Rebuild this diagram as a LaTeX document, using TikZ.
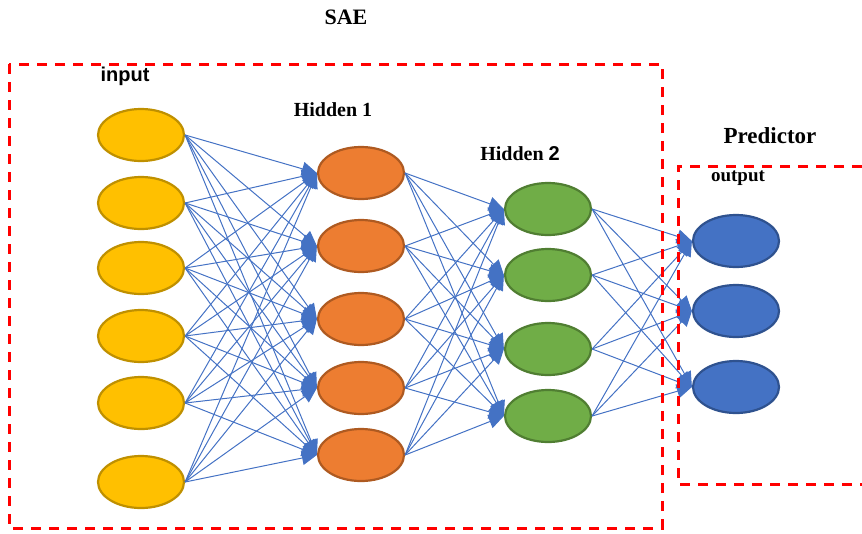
\documentclass[tikz,border=0pt]{standalone}
\usepackage{fontspec}
\setmainfont{Liberation Serif}
\newfontfamily\labelsans{Liberation Sans}
\usetikzlibrary{shapes.geometric,arrows.meta}
\definecolor{inyellow}{HTML}{FFC000}
\definecolor{inborder}{HTML}{BF9000}
\definecolor{haorange}{HTML}{ED7D31}
\definecolor{haborder}{HTML}{AE5A21}
\definecolor{hbgreen}{HTML}{70AD47}
\definecolor{hbborder}{HTML}{507E32}
\definecolor{outblue}{HTML}{4472C4}
\definecolor{outborder}{HTML}{2F528F}
\definecolor{edgeblue}{HTML}{4472C4}
\definecolor{boxred}{HTML}{FF0000}

\begin{document}
\begin{tikzpicture}[x=1pt, y=-1pt,
		neuron/.style={ellipse, minimum width=86pt, minimum height=52pt, inner sep=0pt, line width=2.2pt},
		link/.style={edgeblue, line width=1pt, -{Triangle[length=15pt,width=14pt]}},
		frame/.style={boxred, line width=3pt, dash pattern=on 10pt off 8pt},
		title/.style={font=\bfseries\fontsize{20}{24}\selectfont}]
		\useasboundingbox (0,0) rectangle (862,533);

		\node[neuron, fill=inyellow, draw=inborder] (in1) at (141,135) {};
		\node[neuron, fill=inyellow, draw=inborder] (in2) at (141,203) {};
		\node[neuron, fill=inyellow, draw=inborder] (in3) at (141,268) {};
		\node[neuron, fill=inyellow, draw=inborder] (in4) at (141,336) {};
		\node[neuron, fill=inyellow, draw=inborder] (in5) at (141,403) {};
		\node[neuron, fill=inyellow, draw=inborder] (in6) at (141,482) {};

		\node[neuron, fill=haorange, draw=haborder] (ha1) at (361,173) {};
		\node[neuron, fill=haorange, draw=haborder] (ha2) at (361,246) {};
		\node[neuron, fill=haorange, draw=haborder] (ha3) at (361,319) {};
		\node[neuron, fill=haorange, draw=haborder] (ha4) at (361,388) {};
		\node[neuron, fill=haorange, draw=haborder] (ha5) at (361,455) {};

		\node[neuron, fill=hbgreen, draw=hbborder] (hb1) at (548,209) {};
		\node[neuron, fill=hbgreen, draw=hbborder] (hb2) at (548,275) {};
		\node[neuron, fill=hbgreen, draw=hbborder] (hb3) at (548,349) {};
		\node[neuron, fill=hbgreen, draw=hbborder] (hb4) at (548,416) {};

		\node[neuron, fill=outblue, draw=outborder] (out1) at (736,241) {};
		\node[neuron, fill=outblue, draw=outborder] (out2) at (736,311) {};
		\node[neuron, fill=outblue, draw=outborder] (out3) at (736,387) {};

		\foreach \i in {1,...,6}
			\foreach \j in {1,...,5}
				\draw[link] (in\i.east) -- (ha\j.west);
		\foreach \i in {1,...,5}
			\foreach \j in {1,...,4}
				\draw[link] (ha\i.east) -- (hb\j.west);
		\foreach \i in {1,...,4}
			\foreach \j in {1,...,3}
				\draw[link] (hb\i.east) -- (out\j.west);

		\draw[frame] (9,64) rectangle (662,528);
		\draw[frame] (862,166) -- (678,166) -- (678,484) -- (862,484);

		\node[font=\bfseries\fontsize{22}{26}\selectfont] (sae) at (346,17) {SAE};
		\node[font=\labelsans\bfseries\fontsize{20}{24}\selectfont] (lin) at (125,76) {input};
		\node[title] (lha) at (333,110) {Hidden 1};
		\node[title] (lhb) at (520,154) {Hidden {\labelsans 2}};
		\node[font=\bfseries\fontsize{23}{27}\selectfont] (lpred) at (770,136) {Predictor};
		\node[font=\bfseries\fontsize{19}{23}\selectfont] (lout) at (738,178) {output};
	\end{tikzpicture}
\end{document}
